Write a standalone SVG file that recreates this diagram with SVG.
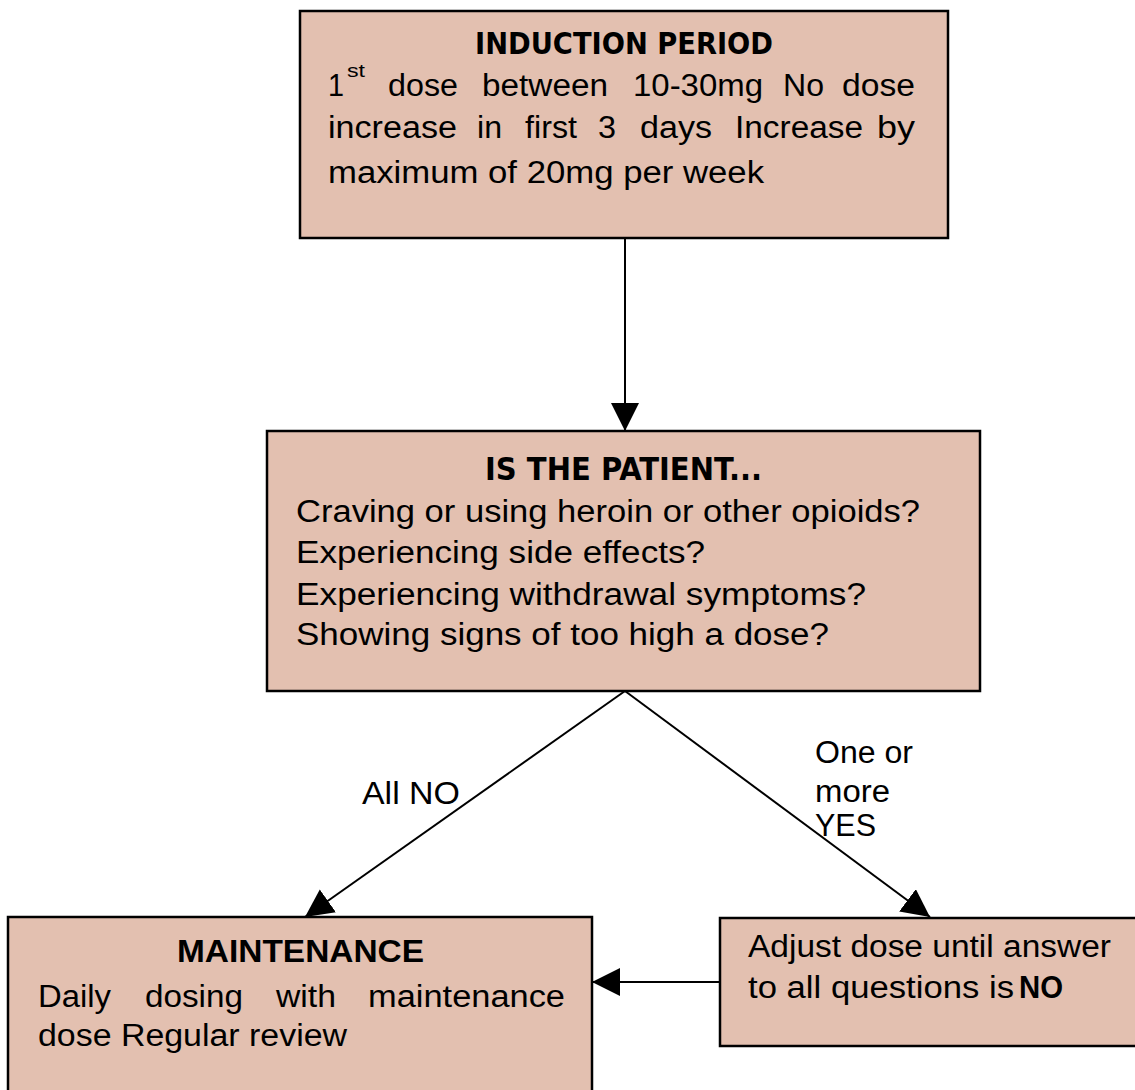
<svg xmlns="http://www.w3.org/2000/svg" width="1135" height="1090" viewBox="0 0 1135 1090">
<style>
.box{fill:#E3C0B0;stroke:#000;stroke-width:2.5}
.t{font-family:"Liberation Sans",Arial,sans-serif;font-size:31px;fill:#000}
.h{font-family:"DejaVu Sans Condensed","DejaVu Sans",sans-serif;font-weight:bold;font-size:30px;fill:#000}
.b{font-weight:bold}
.conn{stroke:#000;stroke-width:2;fill:none}
</style>
<defs>
<marker id="ah" markerUnits="userSpaceOnUse" markerWidth="30" markerHeight="30" refX="28" refY="14" orient="auto">
<path d="M0,0 L28,14 L0,28 z" fill="#000"/>
</marker>
</defs>
<rect width="1135" height="1090" fill="#fff"/>
<g id="connectors">
<line class="conn" x1="625" y1="238" x2="625" y2="431" marker-end="url(#ah)"/>
<line class="conn" x1="625" y1="691" x2="305" y2="917" marker-end="url(#ah)"/>
<line class="conn" x1="625" y1="691" x2="930" y2="917" marker-end="url(#ah)"/>
<line class="conn" x1="720" y1="982" x2="592" y2="982" marker-end="url(#ah)"/>
<text class="t" x="362" y="804" textLength="98" lengthAdjust="spacingAndGlyphs">All NO</text>
<text class="t" x="815" y="763" textLength="98" lengthAdjust="spacingAndGlyphs">One or</text>
<text class="t" x="815" y="802" textLength="75" lengthAdjust="spacingAndGlyphs">more</text>
<text class="t" x="815" y="836" textLength="61" lengthAdjust="spacingAndGlyphs">YES</text>
</g>
<g id="induction">
<rect class="box" x="300" y="11" width="648" height="227"/>
<text class="h" x="475" y="54" textLength="298" lengthAdjust="spacingAndGlyphs">INDUCTION PERIOD</text>
<text class="t" x="328" y="96" textLength="16" lengthAdjust="spacingAndGlyphs">1</text>
<text class="t" x="347" y="77" style="font-size:19px" textLength="18" lengthAdjust="spacingAndGlyphs">st</text>
<text class="t" x="388" y="96" textLength="70" lengthAdjust="spacingAndGlyphs">dose</text>
<text class="t" x="482" y="96" textLength="126" lengthAdjust="spacingAndGlyphs">between</text>
<text class="t" x="633" y="96" textLength="130" lengthAdjust="spacingAndGlyphs">10-30mg</text>
<text class="t" x="783" y="96" textLength="41" lengthAdjust="spacingAndGlyphs">No</text>
<text class="t" x="842" y="96" textLength="73" lengthAdjust="spacingAndGlyphs">dose</text>
<text class="t" x="328" y="138" textLength="129" lengthAdjust="spacingAndGlyphs">increase</text>
<text class="t" x="477" y="138" textLength="25" lengthAdjust="spacingAndGlyphs">in</text>
<text class="t" x="525" y="138" textLength="52" lengthAdjust="spacingAndGlyphs">first</text>
<text class="t" x="598" y="138" textLength="18" lengthAdjust="spacingAndGlyphs">3</text>
<text class="t" x="640" y="138" textLength="72" lengthAdjust="spacingAndGlyphs">days</text>
<text class="t" x="735" y="138" textLength="128" lengthAdjust="spacingAndGlyphs">Increase</text>
<text class="t" x="877" y="138" textLength="38" lengthAdjust="spacingAndGlyphs">by</text>
<text class="t" x="328" y="183" textLength="436" lengthAdjust="spacingAndGlyphs">maximum of 20mg per week</text>
</g>
<g id="patient">
<rect class="box" x="267" y="431" width="713" height="260"/>
<text class="h" x="485" y="480" textLength="277" lengthAdjust="spacingAndGlyphs" style="font-size:32px">IS THE PATIENT...</text>
<text class="t" x="296" y="522" textLength="624" lengthAdjust="spacingAndGlyphs">Craving or using heroin or other opioids?</text>
<text class="t" x="296" y="563" textLength="409" lengthAdjust="spacingAndGlyphs">Experiencing side effects?</text>
<text class="t" x="296" y="605" textLength="570" lengthAdjust="spacingAndGlyphs">Experiencing withdrawal symptoms?</text>
<text class="t" x="296" y="645" textLength="533" lengthAdjust="spacingAndGlyphs">Showing signs of too high a dose?</text>
</g>
<g id="maintenance">
<rect class="box" x="8" y="917" width="584" height="190"/>
<text class="t b" x="177" y="962" textLength="247" lengthAdjust="spacingAndGlyphs" style="font-size:32px">MAINTENANCE</text>
<text class="t" x="38" y="1007" textLength="73" lengthAdjust="spacingAndGlyphs">Daily</text>
<text class="t" x="145" y="1007" textLength="98" lengthAdjust="spacingAndGlyphs">dosing</text>
<text class="t" x="276" y="1007" textLength="60" lengthAdjust="spacingAndGlyphs">with</text>
<text class="t" x="368" y="1007" textLength="197" lengthAdjust="spacingAndGlyphs">maintenance</text>
<text class="t" x="38" y="1046" textLength="309" lengthAdjust="spacingAndGlyphs">dose Regular review</text>
</g>
<g id="adjust">
<rect class="box" x="720" y="918" width="430" height="128"/>
<text class="t" x="748" y="957" textLength="363" lengthAdjust="spacingAndGlyphs">Adjust dose until answer</text>
<text class="t" x="748" y="998" textLength="266" lengthAdjust="spacingAndGlyphs">to all questions is</text>
<text class="t b" x="1019" y="998" textLength="44" lengthAdjust="spacingAndGlyphs">NO</text>
</g>
</svg>
